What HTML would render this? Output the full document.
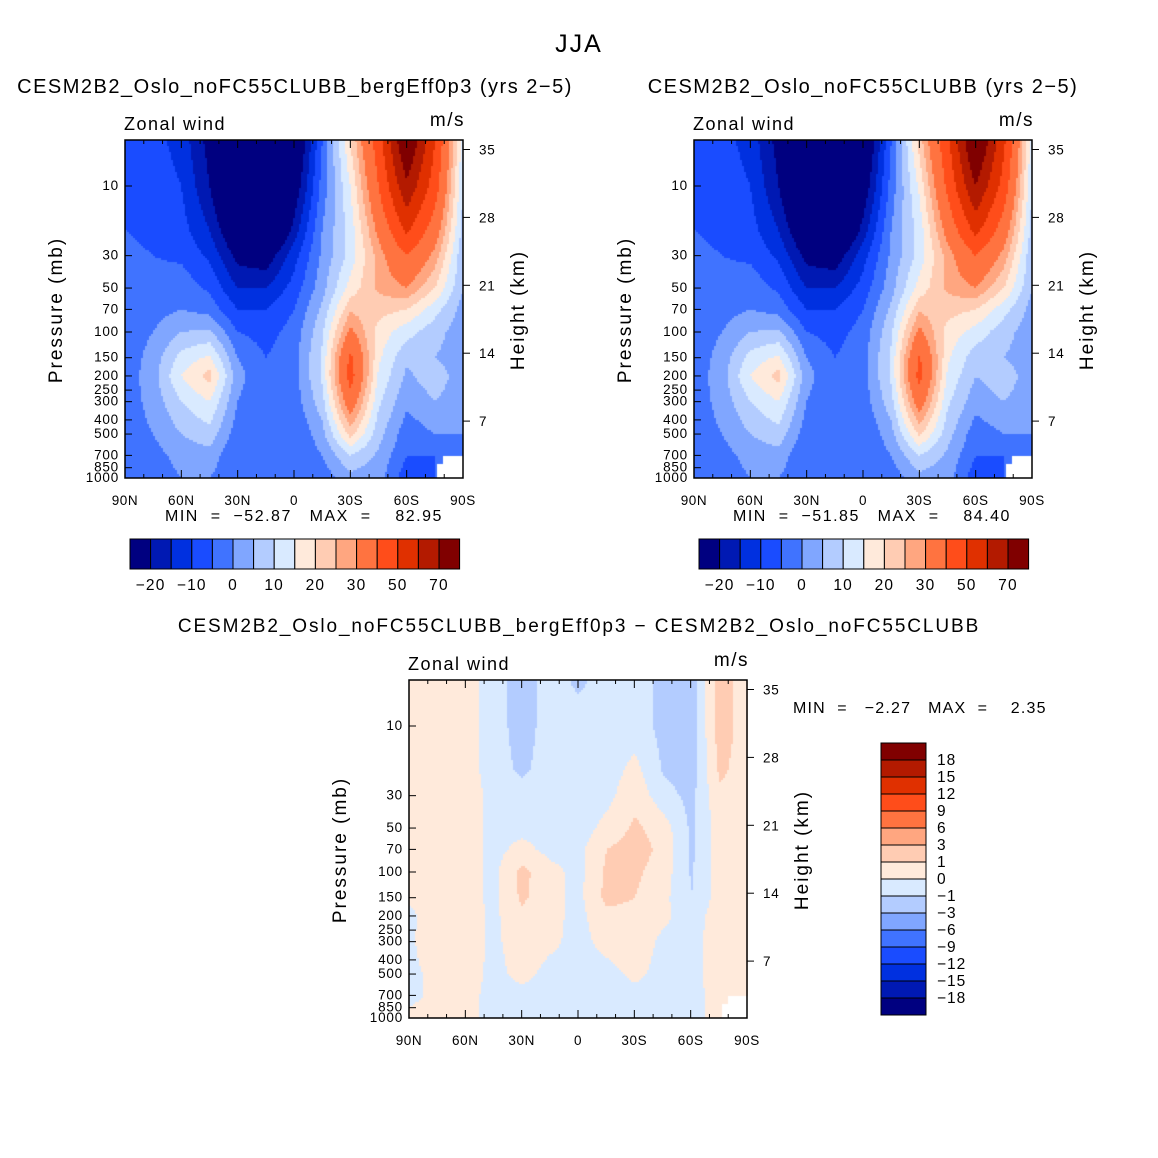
<!DOCTYPE html>
<html><head><meta charset="utf-8">
<style>
body{margin:0;background:#fff;}
#root{position:relative;width:1158px;height:1158px;background:#fff;font-family:"Liberation Sans",sans-serif;color:#000;overflow:hidden}
.t{position:absolute;white-space:pre;line-height:1}
canvas{position:absolute}
svg{position:absolute;left:0;top:0}
</style></head>
<body>
<div id="root">
<div class="t" style="left:0;width:1158px;text-align:center;top:32px;font-size:25px;letter-spacing:2px">JJA</div>
<div class="t" style="left:0;width:590px;text-align:center;top:77px;font-size:20px;letter-spacing:1.5px">CESM2B2_Oslo_noFC55CLUBB_bergEff0p3 (yrs 2−5)</div>
<div class="t" style="left:568px;width:590px;text-align:center;top:77px;font-size:20px;letter-spacing:1.5px">CESM2B2_Oslo_noFC55CLUBB (yrs 2−5)</div>
<div class="t" style="left:0;width:1158px;text-align:center;top:617px;font-size:19px;letter-spacing:1.9px">CESM2B2_Oslo_noFC55CLUBB_bergEff0p3 − CESM2B2_Oslo_noFC55CLUBB</div>
<div class="t" style="left:165px;top:509px;font-size:16px;letter-spacing:1.5px">MIN  =  −52.87   MAX  =    82.95</div>
<div class="t" style="left:733px;top:509px;font-size:16px;letter-spacing:1.5px">MIN  =  −51.85   MAX  =    84.40</div>
<div class="t" style="left:793px;top:701px;font-size:16px;letter-spacing:1.2px">MIN  =   −2.27   MAX  =    2.35</div>
<canvas id="c1" width="338" height="338" style="left:125px;top:140px"></canvas>
<canvas id="c2" width="338" height="338" style="left:694px;top:140px"></canvas>
<canvas id="c3" width="339" height="338" style="left:409px;top:680px"></canvas>
<svg id="ov" width="1158" height="1158"></svg>
</div>
<script>
const lats=[90,75,60,45,30,15,0,-15,-30,-45,-60,-75,-90];
const levels=[5,10,20,30,50,70,100,150,200,300,500,700,1000];
const mainBounds=[-20,-15,-10,-5,0,5,10,15,20,25,30,40,50,60,70];
const diffBounds=[-18,-15,-12,-9,-6,-3,-1,0,1,3,6,9,12,15,18];
const mainTickLabels=["−20","−10","0","10","20","30","50","70"];
const diffTickLabels=["18","15","12","9","6","3","1","0","−1","−3","−6","−9","−12","−15","−18"];
const presTicks=[10,30,50,70,100,150,200,250,300,400,500,700,850,1000];
const heightTicks=[35,28,21,14,7];
const latTickLabels=["90N","60N","30N","0","30S","60S","90S"];
const field1=[
[-5,-8,-12,-22,-42,-52,-30,-5,20,45,82,50,12],
[-5,-7,-10,-20,-36,-45,-25,-3,15,40,68,45,10],
[-5,-6,-8,-15,-28,-35,-18,0,12,32,52,35,8],
[-4,-5,-6,-11,-22,-24,-12,1,12,27,40,28,6],
[-3,-3,-2,-6,-15,-15,-8,3,17,26,30,20,5],
[-3,-2,0,-2,-10,-10,-5,6,24,22,20,12,3],
[-3,0,5,6,-5,-7,-3,9,32,18,12,7,2],
[-3,2,12,16,0,-5,-2,11,42,16,6,5,2],
[-3,3,15,22,2,-5,-2,11,44,14,4,8,2],
[-3,2,10,15,0,-5,-3,8,36,11,1,5,2],
[-3,0,5,8,-3,-5,-5,3,22,7,-3,0,0],
[-3,-2,2,3,-5,-5,-5,0,10,4,-5,-5,-2],
[-2,-3,0,0,-4,-5,-5,-3,3,2,-8,-5,0]];
const field2=[
[-5,-8,-12,-22,-42,-51,-30,-5,22,47,84,52,12],
[-5,-7,-10,-20,-36,-44,-25,-3,16,42,70,46,10],
[-5,-6,-8,-15,-28,-34,-18,0,12,33,53,35,8],
[-4,-5,-6,-11,-22,-24,-12,1,12,27,40,28,6],
[-3,-3,-2,-6,-15,-15,-8,3,17,26,30,20,5],
[-3,-2,0,-2,-10,-10,-5,6,24,22,20,12,3],
[-3,0,5,6,-5,-7,-3,9,32,18,13,7,2],
[-3,2,12,16,0,-5,-2,11,41,16,7,5,2],
[-3,3,15,22,2,-5,-2,11,43,14,5,8,2],
[-3,2,10,15,0,-5,-3,8,35,11,2,5,2],
[-3,0,5,8,-3,-5,-5,3,21,7,-3,0,0],
[-3,-2,2,3,-5,-5,-5,0,10,4,-5,-5,-2],
[-2,-3,0,0,-4,-5,-5,-3,3,2,-8,-5,0]];
const fieldDiff=[
[0.5,0.5,0.5,-0.5,-1.5,-0.5,-1.2,-0.5,-0.5,-1.3,-1.5,1.5,0.5],
[0.5,0.5,0.5,-0.5,-1.5,-0.5,-0.5,-0.5,-0.5,-1.3,-1.5,1.5,0.5],
[0.5,0.5,0.5,-0.5,-1.2,-0.5,-0.5,-0.5,0.3,-1.1,-1.5,1.2,0.5],
[0.5,0.5,0.5,-0.3,-0.5,-0.5,-0.5,-0.3,0.7,-0.6,-1.3,0.8,0.5],
[0.5,0.5,0.5,-0.3,-0.3,-0.3,-0.5,0.3,1.2,0.5,-1.2,0.5,0.5],
[0.5,0.5,0.5,-0.3,0.3,-0.3,-0.3,1.0,1.5,0.7,-1.2,0.5,0.5],
[0.5,0.5,0.5,-0.3,1.3,0.3,-0.3,1.2,1.2,0.5,-1.1,0.5,0.5],
[0.2,0.5,0.5,-0.3,1.2,0.3,-0.3,1.3,1.0,0.3,-1.0,0.5,0.5],
[-0.3,0.8,0.5,-0.2,0.7,0.3,-0.3,0.7,0.7,0.2,-0.5,0.5,0.7],
[-0.3,1.0,0.5,-0.2,0.5,0.2,-0.3,0.3,0.5,-0.2,-0.3,0.5,0.7],
[-0.3,0.3,0.5,-0.3,0.3,-0.3,-0.3,-0.3,0.2,-0.3,-0.3,0.5,0.7],
[-0.3,0.3,0.3,-0.3,-0.3,-0.3,-0.3,-0.3,-0.3,-0.3,-0.3,0.3,0.3],
[0.3,0.3,0.3,-0.3,-0.3,-0.3,-0.3,-0.3,-0.3,-0.3,-0.3,0.3,-0.3]];

const colors=["#000080","#0019b3","#0030e0","#1a4cff","#4073ff","#80a6ff","#b3ccff","#d9eaff","#ffeadb","#ffccb3","#ffa680","#ff7340","#ff4d1a","#e03000","#b31a00","#800000"];
const W=338,H=338;
function yOf(p){return 46+146*(Math.log10(p)-1);}
function yOfH(h){return 349-9.7*h;}
function xOf(lat){return (90-lat)/180*W;}
function sample(f,lat,p){
  let li=(90-lat)/15; let i0=Math.min(11,Math.floor(li)); let fx=li-i0;
  let lp=Math.log10(p); let j0=0;
  while(j0<levels.length-2 && Math.log10(levels[j0+1])<lp) j0++;
  let a=Math.log10(levels[j0]),b=Math.log10(levels[j0+1]);
  let fy=Math.max(0,Math.min(1,(lp-a)/(b-a)));
  const v=(r,c)=>f[r][c];
  return (1-fy)*((1-fx)*v(j0,i0)+fx*v(j0,i0+1))+fy*((1-fx)*v(j0+1,i0)+fx*v(j0+1,i0+1));
}
function cls(v,bounds){let k=0;while(k<bounds.length&&v>=bounds[k])k++;return k;}
function draw(id,f,bounds){
  const c=document.getElementById(id),ctx=c.getContext('2d');const s=2;
  for(let y=0;y<H;y+=s){for(let x=0;x<c.width;x+=s){
    const lat=90-(x+s/2)/c.width*180;
    const p=Math.pow(10,(y+s/2-46)/146+1);
    ctx.fillStyle=colors[cls(sample(f,lat,p),bounds)];
    ctx.fillRect(x,y,s,s);}}
  ctx.fillStyle="#fff";
  ctx.fillRect(c.width-20,H-22,20,22);ctx.fillRect(c.width-26,H-14,6,14);
}
draw('c1',field1,mainBounds);draw('c2',field2,mainBounds);draw('c3',fieldDiff,diffBounds);

const NS="http://www.w3.org/2000/svg";const ov=document.getElementById('ov');
function el(t,a,txt){const e=document.createElementNS(NS,t);for(const k in a)e.setAttribute(k,a[k]);if(txt!==undefined)e.textContent=txt;ov.appendChild(e);return e;}
function axes(x0,y0,pre){
  let r=el('rect',{x:x0,y:y0,width:W,height:H,fill:'none',stroke:'#000','stroke-width':1.5});
  
  
  presTicks.forEach(p=>{const y=y0+yOf(p);
    el('line',{x1:x0,x2:x0+7,y1:y,y2:y,stroke:'#000'});
    let t=el('text',{x:x0-6,y:y+4,'font-size':13.5,'letter-spacing':0.8,'text-anchor':'end','font-family':'Liberation Sans'},String(p));
    
    });
  heightTicks.forEach(h=>{const y=y0+yOfH(h);
    el('line',{x1:x0+W,x2:x0+W+7,y1:y,y2:y,stroke:'#000'});
    let t=el('text',{x:x0+W+16,y:y+5,'font-size':13.5,'letter-spacing':0.8,'font-family':'Liberation Sans'},String(h));
    
    });
  for(let lat=90;lat>=-90;lat-=10){const x=x0+xOf(lat);const L=(lat%30===0)?8:4;
    el('line',{x1:x,x2:x,y1:y0+H,y2:y0+H-L,stroke:'#000'});
    el('line',{x1:x,x2:x,y1:y0,y2:y0+L,stroke:'#000'});}
  latTickLabels.forEach((s,i)=>{let t=el('text',{x:x0+i*W/6,y:y0+H+27,'font-size':13.5,'letter-spacing':0.6,'text-anchor':'middle','font-family':'Liberation Sans'},s);
    
    });
  let a=el('text',{x:x0-1,y:y0-10,'font-size':18,'letter-spacing':1.5,'font-family':'Liberation Sans'},'Zonal wind');
  
  
  let u=el('text',{x:x0+W+2,y:y0-14,'font-size':19,'letter-spacing':1.5,'text-anchor':'end','font-family':'Liberation Sans'},'m/s');
  
  
  let py=el('text',{x:0,y:0,'font-size':19,'letter-spacing':2,'text-anchor':'middle','font-family':'Liberation Sans',transform:`translate(${x0-63},${y0+170}) rotate(-90)`},'Pressure (mb)');
  
  
  let hy=el('text',{x:0,y:0,'font-size':19,'letter-spacing':2,'text-anchor':'middle','font-family':'Liberation Sans',transform:`translate(${x0+W+61},${y0+170}) rotate(-90)`},'Height (km)');
  
  
}
axes(125,140,'panel1');axes(694,140,'panel2');axes(409,680,'diff');
function hbar(x0,pre){const bw=20.6;
  colors.forEach((c,i)=>{let r=el('rect',{x:x0+i*bw,y:539,width:bw,height:30,fill:c,stroke:'#000','stroke-width':1});
    
    });
  mainTickLabels.forEach((s,i)=>{let t=el('text',{x:x0+bw*(1+2*i),y:590,'font-size':15.5,'letter-spacing':1.2,'text-anchor':'middle','font-family':'Liberation Sans'},s);
    
    });
}
hbar(130,'panel1');hbar(699,'panel2');
(function(){const bh=17;const rev=colors.slice().reverse();
  rev.forEach((c,i)=>{let r=el('rect',{x:881,y:743+i*bh,width:45,height:bh,fill:c,stroke:'#000','stroke-width':1});
    
    });
  diffTickLabels.forEach((s,i)=>{let t=el('text',{x:937,y:743+bh*(i+1)+5,'font-size':15.5,'letter-spacing':1,'font-family':'Liberation Sans'},s);
    
    });
})();
</script>
</body></html>
